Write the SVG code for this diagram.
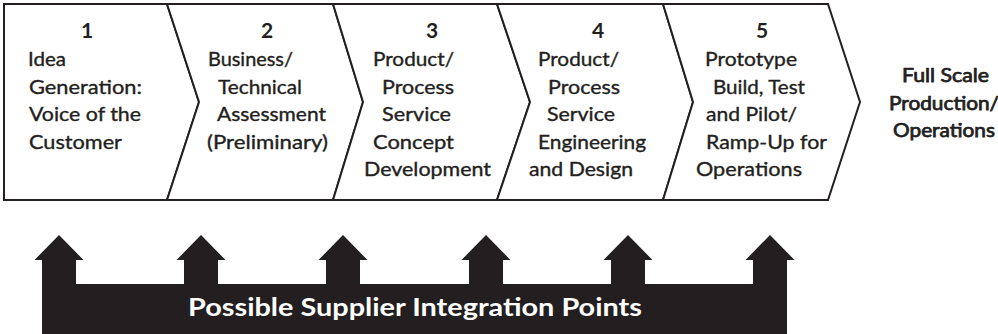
<svg xmlns="http://www.w3.org/2000/svg" width="998" height="334" viewBox="0 0 998 334">
  <style>
    .stage { fill: #ffffff; stroke: #231f20; stroke-width: 2; stroke-linejoin: miter; }
    .num { font-family: Lato, "Open Sans", "Liberation Sans", sans-serif; font-weight: 700; font-size: 21px; fill: #231f20; text-anchor: middle; }
    .lbl { font-family: Lato, "Open Sans", "Liberation Sans", sans-serif; font-weight: 400; font-size: 18.5px; fill: #231f20; stroke: #231f20; stroke-width: 0.35; }
    .out { font-family: Lato, "Open Sans", "Liberation Sans", sans-serif; font-weight: 400; font-size: 18.5px; fill: #231f20; stroke: #231f20; stroke-width: 0.75; }
    .bar { fill: #231f20; }
    .barlbl { font-family: Lato, "Open Sans", "Liberation Sans", sans-serif; font-weight: 700; font-size: 25px; fill: #ffffff; }
  </style>

  <!-- Stage 1 -->
  <g id="step1">
    <path class="stage" d="M4,4 H167 L199,102 L167,200 H4 Z"/>
    <text class="num" x="87" y="38">1</text>
    <text class="lbl" x="28" y="66" textLength="38" lengthAdjust="spacingAndGlyphs">Idea</text>
    <text class="lbl" x="29" y="93.5" textLength="113" lengthAdjust="spacingAndGlyphs">Generation:</text>
    <text class="lbl" x="29" y="121" textLength="112" lengthAdjust="spacingAndGlyphs">Voice of the</text>
    <text class="lbl" x="29" y="148.5" textLength="93" lengthAdjust="spacingAndGlyphs">Customer</text>
  </g>

  <!-- Stage 2 -->
  <g id="step2">
    <path class="stage" d="M167,4 H333 L363,102 L333,200 H167 L199,102 Z"/>
    <text class="num" x="267" y="38">2</text>
    <text class="lbl" x="208" y="66" textLength="85" lengthAdjust="spacingAndGlyphs">Business/</text>
    <text class="lbl" x="218" y="93.5" textLength="84" lengthAdjust="spacingAndGlyphs">Technical</text>
    <text class="lbl" x="217" y="121" textLength="109" lengthAdjust="spacingAndGlyphs">Assessment</text>
    <text class="lbl" x="207" y="148.5" textLength="121" lengthAdjust="spacingAndGlyphs">(Preliminary)</text>
  </g>

  <!-- Stage 3 -->
  <g id="step3">
    <path class="stage" d="M333,4 H497 L530,102 L497,200 H333 L363,102 Z"/>
    <text class="num" x="432" y="38">3</text>
    <text class="lbl" x="373" y="66" textLength="81" lengthAdjust="spacingAndGlyphs">Product/</text>
    <text class="lbl" x="382" y="93.5" textLength="72" lengthAdjust="spacingAndGlyphs">Process</text>
    <text class="lbl" x="382" y="121" textLength="69" lengthAdjust="spacingAndGlyphs">Service</text>
    <text class="lbl" x="373" y="148.5" textLength="81" lengthAdjust="spacingAndGlyphs">Concept</text>
    <text class="lbl" x="364" y="176" textLength="127" lengthAdjust="spacingAndGlyphs">Development</text>
  </g>

  <!-- Stage 4 -->
  <g id="step4">
    <path class="stage" d="M497,4 H663 L693,102 L663,200 H497 L530,102 Z"/>
    <text class="num" x="598" y="38">4</text>
    <text class="lbl" x="538" y="66" textLength="81" lengthAdjust="spacingAndGlyphs">Product/</text>
    <text class="lbl" x="548" y="93.5" textLength="72" lengthAdjust="spacingAndGlyphs">Process</text>
    <text class="lbl" x="547" y="121" textLength="68" lengthAdjust="spacingAndGlyphs">Service</text>
    <text class="lbl" x="538" y="148.5" textLength="108" lengthAdjust="spacingAndGlyphs">Engineering</text>
    <text class="lbl" x="529" y="176" textLength="104" lengthAdjust="spacingAndGlyphs">and Design</text>
  </g>

  <!-- Stage 5 -->
  <g id="step5">
    <path class="stage" d="M663,4 H828 L860,102 L828,200 H663 L693,102 Z"/>
    <text class="num" x="762" y="38">5</text>
    <text class="lbl" x="705" y="66" textLength="92" lengthAdjust="spacingAndGlyphs">Prototype</text>
    <text class="lbl" x="713" y="93.5" textLength="92" lengthAdjust="spacingAndGlyphs">Build, Test</text>
    <text class="lbl" x="706" y="121" textLength="91" lengthAdjust="spacingAndGlyphs">and Pilot/</text>
    <text class="lbl" x="706" y="148.5" textLength="121" lengthAdjust="spacingAndGlyphs">Ramp-Up for</text>
    <text class="lbl" x="696" y="176" textLength="106" lengthAdjust="spacingAndGlyphs">Operations</text>
  </g>

  <!-- Outcome after the last stage -->
  <g id="full-scale">
    <text class="out" x="902" y="82" textLength="87" lengthAdjust="spacingAndGlyphs">Full Scale</text>
    <text class="out" x="889" y="109.5" textLength="110" lengthAdjust="spacingAndGlyphs">Production/</text>
    <text class="out" x="893" y="137" textLength="102" lengthAdjust="spacingAndGlyphs">Operations</text>
  </g>

  <!-- Supplier integration bar with one upward arrow per entry point -->
  <g id="supplier-integration">
    <path class="bar" d="M42,334 V260 H34.5 L59,235 L83.5,260 H76 V284
      H184 V260 H176.5 L201,235 L225.5,260 H218 V284
      H326 V260 H318.5 L343,235 L367.5,260 H360 V284
      H469 V260 H461.5 L486,235 L510.5,260 H503 V284
      H611 V260 H603.5 L628,235 L652.5,260 H645 V284
      H753 V260 H745.5 L770,235 L794.5,260 H787 V334 Z"/>
    <text class="barlbl" x="188" y="316" textLength="454" lengthAdjust="spacingAndGlyphs">Possible Supplier Integration Points</text>
  </g>
</svg>
